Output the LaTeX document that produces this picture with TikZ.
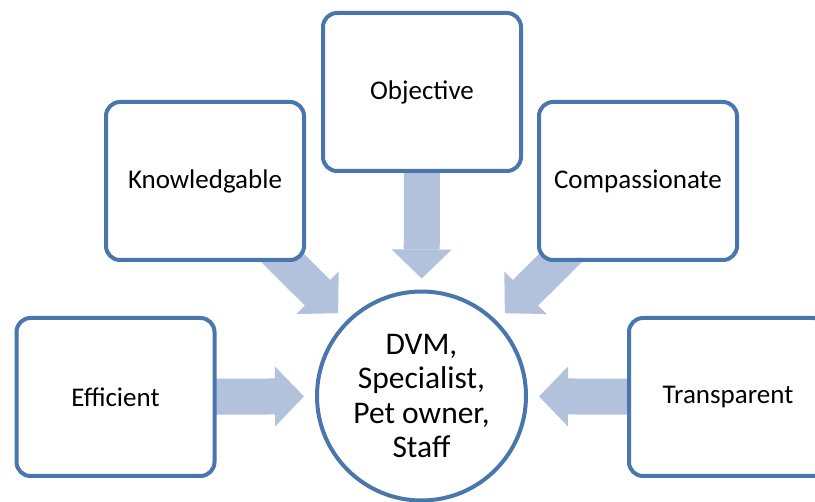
\documentclass[tikz,border=0pt]{standalone}
\usepackage{fontspec}
\setmainfont{Carlito}
\usepackage{tikz}
\usetikzlibrary{
  arrows.meta,
  backgrounds
}
\definecolor{boxblue}{RGB}{73,118,173}
\definecolor{arrowblue}{RGB}{178,193,220}
\tikzset{
  trait/.style={
    draw=boxblue,
    line width=4pt,
    fill=white,
    rounded corners=14pt,
    minimum width=198pt,
    minimum height=158pt,
    font=\fontsize{27}{32}\selectfont},
  hub/.style={
    circle,
    draw=boxblue,
    line width=4pt,
    fill=white,
    minimum size=209pt,
    align=center,
    font=\fontsize{31.5}{34.5}\selectfont},
  blockarrow/.style={
    draw=arrowblue,
    line width=36pt,
    -{Triangle[length=29pt,width=60pt,line width=0pt]},
    shorten >=11pt}
  }

\begin{document}
\begin{tikzpicture}[x=1pt,y=-1pt]
      \useasboundingbox (0,0) rectangle (815,502);
      \clip (0,0) rectangle (815,502);
      \node [hub] (dvm) at (421.5,396) {DVM,\\Specialist,\\Pet owner,\\Staff};
      \node [trait] (obj) at (422,92) {Objective};
      \node [trait] (know) at (205,181) {Knowledgable};
      \node [trait] (comp) at (638,181) {Compassionate};
      \node [trait] (eff) at (115.5,397) {Efficient};
      \node [trait] (trans) at (728,397) {Transparent};
      \begin{scope}[on background layer]
        \draw [blockarrow] (obj.center) -- (dvm);
        \draw [blockarrow] (know.center) -- (dvm);
        \draw [blockarrow] (comp.center) -- (dvm);
        \draw [blockarrow] (eff.center) -- (dvm);
        \draw [blockarrow] (trans.center) -- (dvm);
      \end{scope}
    \end{tikzpicture}
\end{document}
